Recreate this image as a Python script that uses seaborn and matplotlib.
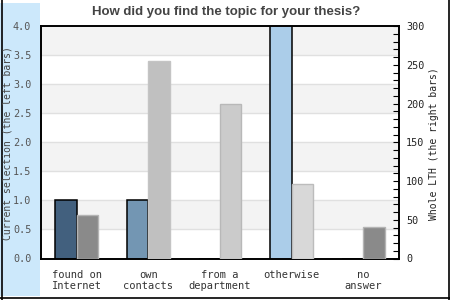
import matplotlib
matplotlib.use("Agg")
import matplotlib.pyplot as plt
import matplotlib.patches as mpatches
import matplotlib.lines as mlines
from matplotlib.ticker import MultipleLocator, FormatStrFormatter
import seaborn as sns
import pandas as pd

categories = ["found on\nInternet", "own\ncontacts", "from a\ndepartment", "otherwise", "no\nanswer"]
current_selection = [1, 1, 0, 4, 0]
whole_lth = [56, 255, 200, 96, 41]
left_colors = ["#42607e", "#7396b3", "#7396b3", "#abcde9", "#abcde9"]
right_colors = ["#8a8a8a", "#c0c0c0", "#cbcbcb", "#d8d8d8", "#8a8a8a"]
right_edges = ["#b4b4b4", "#c4c4c4", "#b8b8b8", "#bcbcbc", "#b4b4b4"]
title = "How did you find the topic for your thesis?"
left_label = "Current selection (the left bars)"
right_label = "Whole LTH (the right bars)"
series = ["current", "whole"]

sns.set_theme(style="white")
mono = ["DejaVu Sans Mono"]

W, H = 450, 300
fig = plt.figure(figsize=(4.5, 3.0), dpi=100)
fig.patch.set_facecolor("white")

# light blue band on the left
fig.patches.append(mpatches.Rectangle((0, 1 - 296 / H), 40 / W, 293 / H,
                                      transform=fig.transFigure, facecolor="#cce8fb",
                                      edgecolor="none", zorder=-5))
# outer frame (left, right, bottom)
for xs, ys in [([1.5 / W, 1.5 / W], [0, 1]), ([448.5 / W, 448.5 / W], [0, 1]),
               ([0, 1], [1 - 297.5 / H, 1 - 297.5 / H])]:
    fig.lines.append(mlines.Line2D(xs, ys, transform=fig.transFigure, color="black",
                                   lw=1.2, zorder=-4))

ax1 = fig.add_axes([41 / W, 1 - 258.5 / H, 358 / W, 232.5 / H])
ax1.set_facecolor("white")

df_left = pd.DataFrame({"cat": categories, "val": current_selection, "series": "current"})
df_right = pd.DataFrame({"cat": categories, "val": whole_lth, "series": "whole"})
pal = {"current": "#7396b3", "whole": "#c0c0c0"}

sns.barplot(data=df_left, x="cat", y="val", hue="series", hue_order=series, order=categories,
            palette=pal, dodge=True, width=0.6, errorbar=None, legend=False, ax=ax1,
            edgecolor="black", linewidth=1.1, zorder=3)
ax1.set_ylim(0, 4)
ax1.set_xlim(-0.5, len(categories) - 0.5)

for p in list(ax1.patches):
    i = int(round(p.get_x() + p.get_width() / 2 + 0.15))
    if 0 <= i < len(categories):
        p.set_facecolor(left_colors[i])

# alternating bands and grid lines
for k in range(8):
    lo = k * 0.5
    if k % 2 == 1:
        ax1.axhspan(lo, lo + 0.5, facecolor="#f3f3f3", zorder=0, lw=0)
for k in range(1, 8):
    ax1.axhline(k * 0.5, color="#e0e0e0", lw=1.0, zorder=1)

ax1.yaxis.set_major_locator(MultipleLocator(0.5))
ax1.yaxis.set_major_formatter(FormatStrFormatter("%.1f"))
ax1.tick_params(axis="y", length=0, pad=7, labelsize=7.3, labelcolor="#555555")
ax1.tick_params(axis="x", length=0, pad=8, labelsize=7.5, labelcolor="#333333")
for t in ax1.get_xticklabels() + ax1.get_yticklabels():
    t.set_family(mono)
    t.set_linespacing(1.15)
ax1.set_xlabel("")
ax1.set_ylabel(left_label, family=mono, fontsize=7.0, color="#444444")
ax1.yaxis.set_label_coords(-0.079, 0.495)
for s in ax1.spines.values():
    s.set_color("black")
    s.set_linewidth(1.2)
    s.set_visible(True)

ax2 = ax1.twinx()
sns.barplot(data=df_right, x="cat", y="val", hue="series", hue_order=series, order=categories,
            palette=pal, dodge=True, width=0.6, errorbar=None, legend=False, ax=ax2,
            linewidth=1.0, zorder=3)
ax2.set_ylim(0, 300)
ax2.set_xlim(-0.5, len(categories) - 0.5)
for p in ax2.patches:
    i = int(round(p.get_x() + p.get_width() / 2 - 0.15))
    if 0 <= i < len(categories):
        p.set_facecolor(right_colors[i])
        p.set_edgecolor(right_edges[i])

ax2.yaxis.set_major_locator(MultipleLocator(50))
ax2.yaxis.set_minor_locator(MultipleLocator(10))
ax2.tick_params(axis="y", which="both", direction="in", length=4, width=0.8, color="black",
                right=True, left=False, pad=5, labelsize=7.3, labelcolor="#222222")
for t in ax2.get_yticklabels():
    t.set_family(mono)
ax2.set_ylabel(right_label, family=mono, fontsize=7.0, color="#222222")
ax2.yaxis.set_label_coords(1.083, 0.495)
ax2.set_xlabel("")
for s in ax2.spines.values():
    s.set_color("black")
    s.set_linewidth(1.2)
ax2.grid(False)
ax1.grid(False)

fig.text(226 / W, 1 - 12 / H, title, ha="center", va="center", fontsize=9.5,
         fontweight="bold", color="#444444", family=["Liberation Sans", "DejaVu Sans"])

fig.savefig("out.png", dpi=100)
